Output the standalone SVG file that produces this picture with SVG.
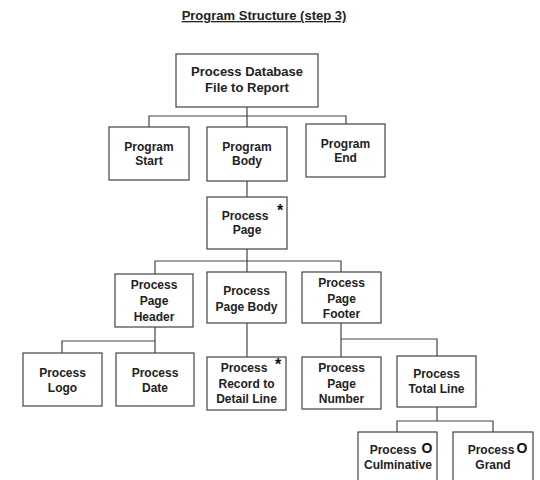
<svg xmlns="http://www.w3.org/2000/svg" width="540" height="480" viewBox="0 0 540 480">
  <style>
    .box { fill: #ffffff; stroke: #444444; stroke-width: 1.2; }
    .lbl { font-family: "Liberation Sans", Arial, sans-serif; font-size: 12px; font-weight: bold; fill: #222222; text-anchor: middle; }
    .big { font-size: 13px; }
    .mark { font-family: "Liberation Sans", Arial, sans-serif; font-weight: bold; fill: #111111; text-anchor: middle; }
    .title { font-family: "Liberation Sans", Arial, sans-serif; font-size: 13px; font-weight: bold; fill: #222222; text-anchor: middle; text-decoration: underline; }
    #connectors path { fill: none; stroke: #444444; stroke-width: 1.2; }
  </style>
  <rect width="540" height="480" fill="#ffffff"/>

  <text class="title" x="264" y="20">Program Structure (step 3)</text>

  <g id="connectors">
    <path d="M247 107 V116 M149 127 V116 H346 V124 M247 116 V127"/>
    <path d="M247 181 V197"/>
    <path d="M247 249 V272 M155 274 V261 H341 V272"/>
    <path d="M155 327 V341 M62 353 V341 H155 V353"/>
    <path d="M247 323 V357"/>
    <path d="M341 323 V357 M341 339 H437 V356"/>
    <path d="M437 407 V421 M397 432 V421 H493 V432"/>
  </g>

  <g id="process-database">
    <rect class="box" x="176" y="54" width="142" height="53"/>
    <text class="lbl big" x="247" y="76">Process Database</text>
    <text class="lbl big" x="247" y="92">File to Report</text>
  </g>

  <g id="program-start">
    <rect class="box" x="109" y="127" width="80" height="53"/>
    <text class="lbl" x="149" y="151">Program</text>
    <text class="lbl" x="149" y="165">Start</text>
  </g>

  <g id="program-body">
    <rect class="box" x="207" y="127" width="80" height="54"/>
    <text class="lbl" x="247" y="151">Program</text>
    <text class="lbl" x="247" y="165">Body</text>
  </g>

  <g id="program-end">
    <rect class="box" x="306" y="124" width="79" height="53"/>
    <text class="lbl" x="345.5" y="148">Program</text>
    <text class="lbl" x="345.5" y="162">End</text>
  </g>

  <g id="process-page">
    <rect class="box" x="207" y="197" width="80" height="52"/>
    <text class="lbl" x="245" y="220">Process</text>
    <text class="lbl" x="247" y="234">Page</text>
    <text class="mark" x="280" y="216" font-size="16">*</text>
  </g>

  <g id="page-header">
    <rect class="box" x="115" y="274" width="78" height="53"/>
    <text class="lbl" x="154" y="289">Process</text>
    <text class="lbl" x="154" y="305">Page</text>
    <text class="lbl" x="154" y="321">Header</text>
  </g>

  <g id="page-body">
    <rect class="box" x="207" y="272" width="79" height="51"/>
    <text class="lbl" x="246.5" y="295">Process</text>
    <text class="lbl" x="246.5" y="311">Page Body</text>
  </g>

  <g id="page-footer">
    <rect class="box" x="302" y="272" width="79" height="51"/>
    <text class="lbl" x="341.5" y="287">Process</text>
    <text class="lbl" x="341.5" y="303">Page</text>
    <text class="lbl" x="341.5" y="318">Footer</text>
  </g>

  <g id="process-logo">
    <rect class="box" x="23" y="353" width="79" height="53"/>
    <text class="lbl" x="62.5" y="377">Process</text>
    <text class="lbl" x="62.5" y="392">Logo</text>
  </g>

  <g id="process-date">
    <rect class="box" x="116" y="353" width="78" height="53"/>
    <text class="lbl" x="155" y="377">Process</text>
    <text class="lbl" x="155" y="392">Date</text>
  </g>

  <g id="record-detail">
    <rect class="box" x="207" y="357" width="79" height="53"/>
    <text class="lbl" x="244" y="372">Process</text>
    <text class="lbl" x="246.5" y="388">Record to</text>
    <text class="lbl" x="246.5" y="403">Detail Line</text>
    <text class="mark" x="278" y="370" font-size="16">*</text>
  </g>

  <g id="page-number">
    <rect class="box" x="302" y="357" width="79" height="52"/>
    <text class="lbl" x="341.5" y="372">Process</text>
    <text class="lbl" x="341.5" y="388">Page</text>
    <text class="lbl" x="341.5" y="403">Number</text>
  </g>

  <g id="total-line">
    <rect class="box" x="397" y="356" width="79" height="51"/>
    <text class="lbl" x="436.5" y="378">Process</text>
    <text class="lbl" x="436.5" y="393">Total Line</text>
  </g>

  <g id="culminative">
    <rect class="box" x="358" y="432" width="79" height="60"/>
    <text class="lbl" x="393" y="454">Process</text>
    <text class="lbl" x="398" y="469">Culminative</text>
    <text class="mark" x="427" y="453" font-size="14">O</text>
  </g>

  <g id="grand">
    <rect class="box" x="453" y="432" width="80" height="60"/>
    <text class="lbl" x="491" y="454">Process</text>
    <text class="lbl" x="493" y="469">Grand</text>
    <text class="mark" x="522" y="453" font-size="14">O</text>
  </g>
</svg>
